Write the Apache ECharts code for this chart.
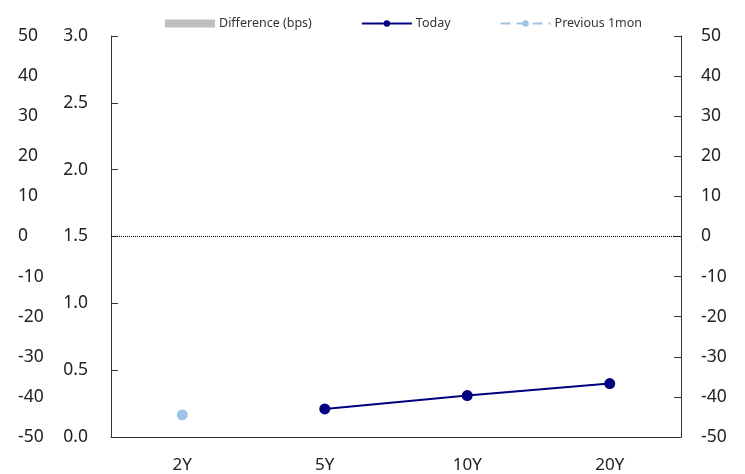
<!DOCTYPE html>
<html>
<head>
<meta charset="utf-8">
<script src="https://cdn.jsdelivr.net/npm/echarts@6/dist/echarts.min.js"></script>
<style>html,body{margin:0;padding:0;background:#fff}#c{width:745px;height:474px}</style>
</head>
<body>
<div id="c"></div>
<script>
var categories = ['2Y', '5Y', '10Y', '20Y'];
var differenceBps = [null, null, null, null];
var today = [null, 0.21, 0.31, 0.40];
var previous1mon = [0.165, null, null, null];
var rateTicks = { min: 0, max: 3, interval: 0.5 };
var bpsTicks = { min: -50, max: 50, interval: 10 };

var FONT = 'Noto Sans';
var axisColor = '#333333';
var chart = echarts.init(document.getElementById('c'));
chart.setOption({
  animation: false,
  textStyle: { fontFamily: FONT },
  legend: {
    top: 12, left: 160, itemWidth: 50, itemHeight: 8, itemGap: 49,
    textStyle: { fontSize: 12.5, color: '#333', fontFamily: FONT, padding: [0, 0, 0, -1] },
    data: [
      { name: 'Difference (bps)', icon: 'rect', itemStyle: { color: '#bfbfbf' } },
      { name: 'Today' },
      { name: 'Previous 1mon' }
    ]
  },
  grid: { left: 111, right: 64, top: 36, bottom: 36 },
  xAxis: {
    type: 'category', data: categories, boundaryGap: true,
    axisLine: { lineStyle: { color: axisColor, width: 1 } },
    axisTick: { inside: true, length: 7, lineStyle: { color: axisColor } },
    axisLabel: { fontSize: 17, color: '#222', margin: 20, fontFamily: FONT },
    splitLine: { show: false }
  },
  yAxis: [
    {
      type: 'value', position: 'left', min: rateTicks.min, max: rateTicks.max, interval: rateTicks.interval,
      axisLine: { show: true, lineStyle: { color: axisColor } },
      axisTick: { show: true, inside: true, length: 7, lineStyle: { color: axisColor } },
      axisLabel: { fontSize: 17.5, color: '#222', margin: 23, fontFamily: FONT,
        formatter: function (v) { return v.toFixed(1); } },
      splitLine: { show: false }
    },
    {
      type: 'value', position: 'right', min: bpsTicks.min, max: bpsTicks.max, interval: bpsTicks.interval,
      axisLine: { show: true, lineStyle: { color: axisColor } },
      axisTick: { show: true, inside: true, length: 7, lineStyle: { color: axisColor } },
      axisLabel: { fontSize: 17.5, color: '#222', margin: 20, fontFamily: FONT },
      splitLine: { show: false }
    },
    {
      type: 'value', position: 'left', min: bpsTicks.min, max: bpsTicks.max, interval: bpsTicks.interval,
      axisLine: { show: false }, axisTick: { show: false },
      axisLabel: { fontSize: 17.5, color: '#222', margin: 93, align: 'left', fontFamily: FONT },
      splitLine: { show: false }
    }
  ],
  series: [
    {
      name: 'Difference (bps)', type: 'bar', yAxisIndex: 1, data: differenceBps,
      itemStyle: { color: '#bfbfbf' }, barWidth: '50%',
      markLine: {
        silent: true, symbol: 'none', label: { show: false },
        lineStyle: { color: '#000', type: 'dotted', width: 1 },
        data: [{ yAxis: 0 }]
      }
    },
    {
      name: 'Today', type: 'line', yAxisIndex: 0, data: today,
      symbol: 'circle', symbolSize: 11, connectNulls: false,
      lineStyle: { color: '#000080', width: 2 }, itemStyle: { color: '#000080' }
    },
    {
      name: 'Previous 1mon', type: 'line', yAxisIndex: 0, data: previous1mon,
      symbol: 'circle', symbolSize: 11,
      lineStyle: { color: '#9dc3e6', width: 2, type: [10, 6] }, itemStyle: { color: '#9dc3e6' }
    }
  ]
});
</script>
</body>
</html>
